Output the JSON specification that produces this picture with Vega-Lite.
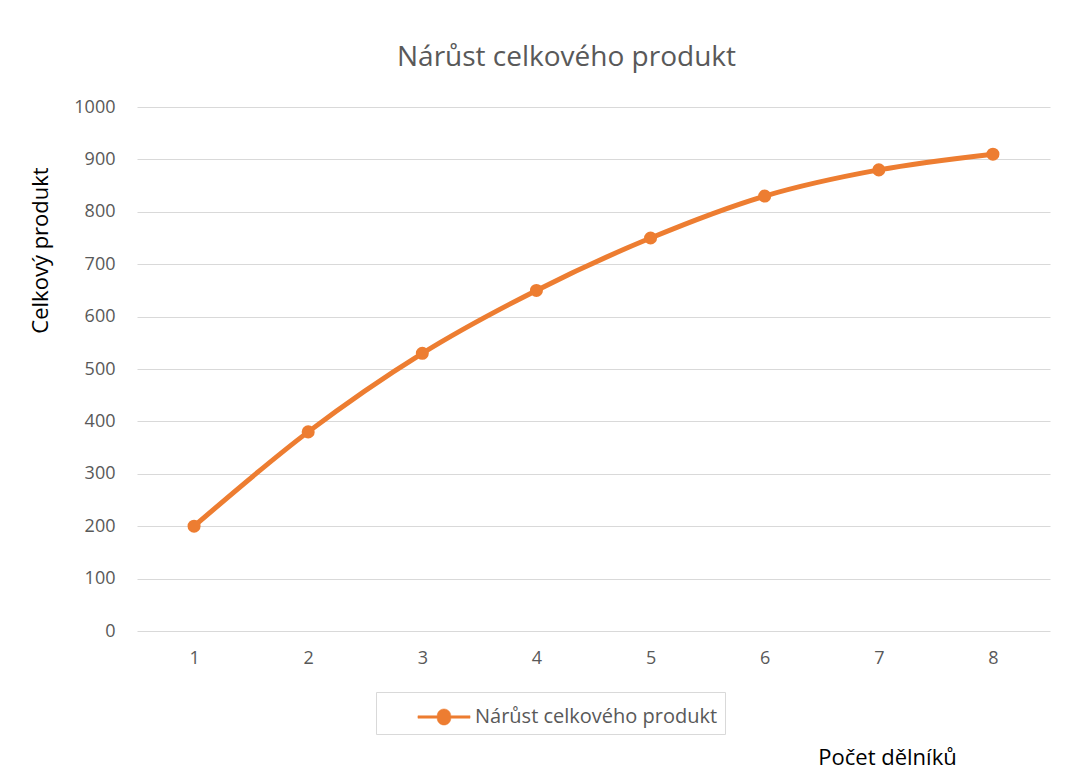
{
  "$schema": "https://vega.github.io/schema/vega-lite/v6.json",
  "width": 913,
  "height": 524,
  "autosize": {"type": "none"},
  "padding": {"left": 137, "top": 107, "right": 19, "bottom": 147},
  "background": "white",
  "title": {
    "text": "Nárůst celkového produkt",
    "font": "Open Sans",
    "fontSize": 28,
    "fontWeight": "normal",
    "color": "#595959",
    "anchor": "middle",
    "dx": -27,
    "offset": 26
  },
  "data": {
    "values": [
      {"delnici": 1, "produkt": 200, "serie": "Nárůst celkového produkt"},
      {"delnici": 2, "produkt": 380, "serie": "Nárůst celkového produkt"},
      {"delnici": 3, "produkt": 530, "serie": "Nárůst celkového produkt"},
      {"delnici": 4, "produkt": 650, "serie": "Nárůst celkového produkt"},
      {"delnici": 5, "produkt": 750, "serie": "Nárůst celkového produkt"},
      {"delnici": 6, "produkt": 830, "serie": "Nárůst celkového produkt"},
      {"delnici": 7, "produkt": 880, "serie": "Nárůst celkového produkt"},
      {"delnici": 8, "produkt": 910, "serie": "Nárůst celkového produkt"}
    ]
  },
  "encoding": {
    "x": {
      "field": "delnici",
      "type": "ordinal",
      "scale": {"type": "point", "padding": 0.5},
      "axis": {
        "title": "Počet dělníků",
        "titleFont": "Open Sans",
        "titleFontSize": 22,
        "titleFontWeight": "normal",
        "titleColor": "#000000",
        "titleX": 750,
        "titleY": 126,
        "titleAlign": "center",
        "titleBaseline": "middle",
        "labelAngle": 0,
        "labelFont": "Open Sans",
        "labelFontSize": 18,
        "labelColor": "#595959",
        "labelPadding": 18,
        "ticks": false,
        "domain": false,
        "grid": false
      }
    },
    "y": {
      "field": "produkt",
      "type": "quantitative",
      "scale": {"domain": [0, 1000], "nice": false},
      "axis": {
        "title": "Celkový produkt",
        "titleFont": "Open Sans",
        "titleFontSize": 22,
        "titleFontWeight": "normal",
        "titleColor": "#000000",
        "titleAngle": -90,
        "titleX": -97,
        "titleY": 143,
        "titleAlign": "center",
        "titleBaseline": "middle",
        "values": [0, 100, 200, 300, 400, 500, 600, 700, 800, 900, 1000],
        "format": "d",
        "labelFont": "Open Sans",
        "labelFontSize": 18,
        "labelColor": "#595959",
        "labelPadding": 22,
        "ticks": false,
        "domain": false,
        "grid": true,
        "gridColor": "#d9d9d9",
        "gridWidth": 1.2
      }
    },
    "color": {
      "field": "serie",
      "type": "nominal",
      "scale": {"range": ["#ED7D31"]},
      "legend": {
        "title": null,
        "orient": "none",
        "legendX": 239,
        "legendY": 585,
        "padding": 7,
        "strokeColor": "#d9d9d9",
        "labelFont": "Open Sans",
        "labelFontSize": 20,
        "labelColor": "#595959",
        "labelLimit": 400,
        "symbolType": "M-1.49,-0.07L-0.39,-0.07A0.39,0.39 0 1,1 0.39,-0.07L1.49,-0.07L1.49,0.07L0.39,0.07A0.39,0.39 0 1,1 -0.39,0.07L-1.49,0.07Z",
        "symbolSize": 1225,
        "symbolOffset": 43,
        "symbolFillColor": "#ED7D31",
        "symbolStrokeColor": "#ED7D31",
        "symbolStrokeWidth": 0.5,
        "symbolOpacity": 1,
        "labelOffset": 13
      }
    }
  },
  "layer": [
    {
      "mark": {"type": "line", "strokeWidth": 5, "interpolate": "monotone"}
    },
    {
      "mark": {"type": "point", "filled": true, "size": 170, "opacity": 1}
    }
  ],
  "config": {
    "view": {"stroke": null}
  }
}
